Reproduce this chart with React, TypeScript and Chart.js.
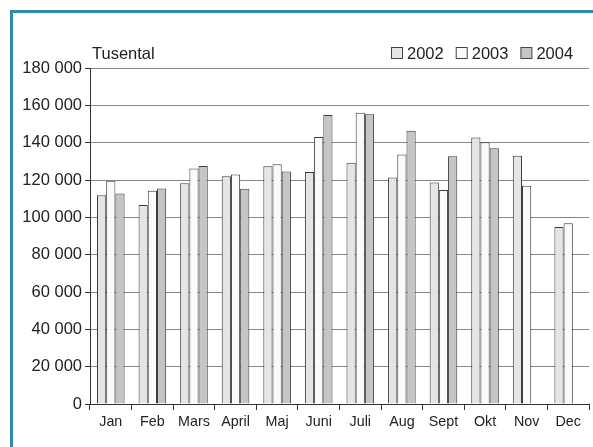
import React, { useEffect, useRef } from "react";
import { Chart, registerables } from "chart.js";

Chart.register(...registerables);

const months = ["Jan", "Feb", "Mars", "April", "Maj", "Juni", "Juli", "Aug", "Sept", "Okt", "Nov", "Dec"];
const years = ["2002", "2003", "2004"];
const values2002 = [111800, 106600, 118200, 122000, 127300, 124300, 129300, 121400, 118600, 142800, 133000, 94800];
const values2003 = [119600, 114300, 126200, 123000, 128400, 143000, 156000, 133700, 114600, 140200, 116900, 96800];
const values2004 = [112800, 115500, 127500, 115300, 124600, 154800, 155200, 146400, 132700, 137000, null, null];
const colors = ["#e4e5e7", "#fafafa", "#c4c5c7"];
const unitLabel = "Tusental";

const FONT = "'Liberation Sans', Arial, sans-serif";

const overlayPlugin = {
  id: "overlay",
  afterDraw(chart: any) {
    const ctx = chart.ctx;
    const area = chart.chartArea;
    ctx.save();
    ctx.font = `16.5px ${FONT}`;
    ctx.fillStyle = "#222";
    ctx.textBaseline = "alphabetic";
    ctx.textAlign = "left";
    ctx.fillText(unitLabel, area.left + 2, 59);
    let x = 391;
    chart.data.datasets.forEach((ds: any) => {
      ctx.fillStyle = ds.backgroundColor;
      ctx.fillRect(x + 0.5, 47.5, 11, 11);
      ctx.strokeStyle = "#444";
      ctx.lineWidth = 1;
      ctx.strokeRect(x + 0.5, 47.5, 11, 11);
      ctx.fillStyle = "#222";
      ctx.fillText(ds.label, x + 16, 59);
      const w = ctx.measureText(ds.label).width;
      x += 16 + w + 12;
    });
    ctx.restore();
  },
};

const fmt = (v: number) => String(v).replace(/\B(?=(\d{3})+(?!\d))/g, " ");

export default function App() {
  const ref = useRef<HTMLCanvasElement>(null);
  useEffect(() => {
    if (!ref.current) return;
    const series = [values2002, values2003, values2004];
    const chart = new Chart(ref.current, {
      type: "bar",
      data: {
        labels: months,
        datasets: years.map((y, i) => ({
          label: y,
          data: series[i],
          backgroundColor: colors[i],
          borderColor: "#3a3a3a",
          borderWidth: 1,
          borderSkipped: "bottom",
          categoryPercentage: 0.664,
          barPercentage: 1,
        })),
      },
      options: {
        responsive: false,
        animation: false,
        layout: { padding: { top: 68, right: 4, left: 0, bottom: 0 } },
        plugins: { legend: { display: false }, tooltip: { enabled: false }, title: { display: false } },
        scales: {
          x: {
            afterFit: (s: any) => { s.height = 43; },
            grid: { display: true, drawOnChartArea: false, drawTicks: true, tickLength: 6, offset: true, tickColor: "#333" },
            border: { display: true, color: "#333", width: 1 },
            ticks: { color: "#222", font: { family: FONT, size: 14.3 }, padding: 3, maxRotation: 0 },
          },
          y: {
            min: 0,
            max: 180000,
            afterFit: (s: any) => { s.width = 90; },
            grid: { color: "#888888", tickColor: "#333", tickLength: 5, drawTicks: true },
            border: { display: true, color: "#333", width: 1 },
            ticks: {
              stepSize: 20000,
              color: "#222",
              font: { family: FONT, size: 16.5 },
              padding: 3,
              callback: (v: any) => fmt(Number(v)),
            },
          },
        },
      },
      plugins: [overlayPlugin],
    });
    return () => chart.destroy();
  }, []);
  return (
    <div>
      <div
        style={{
          position: "fixed",
          left: 10,
          top: 10,
          width: 600,
          height: 460,
          borderLeft: "3px solid rgb(46,139,170)",
          borderTop: "3px solid rgb(46,139,170)",
          background: "#fff",
        }}
      />
      <canvas
        ref={ref}
        width={593}
        height={447}
        style={{ position: "fixed", left: 0, top: 0, width: 593, height: 447 }}
      />
    </div>
  );
}
